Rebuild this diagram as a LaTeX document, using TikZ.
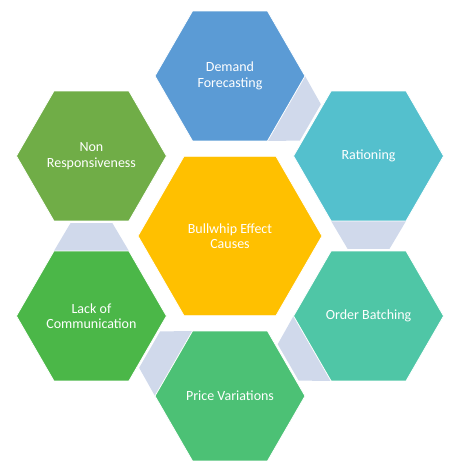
\documentclass[tikz,border=0pt]{standalone}
\usepackage{fontspec}
\setmainfont{Carlito}
\usetikzlibrary{shapes.geometric,calc,backgrounds}
\definecolor{hubfill}{HTML}{FFC000}
\definecolor{demandblue}{HTML}{5B9BD5}
\definecolor{rationteal}{HTML}{54C0CD}
\definecolor{batchgreen}{HTML}{4FC6A6}
\definecolor{pricegreen}{HTML}{4CC175}
\definecolor{commgreen}{HTML}{4BB748}
\definecolor{nonrespgreen}{HTML}{70AD47}
\definecolor{linkgrey}{HTML}{D0D9EB}
\tikzset{
  hexcell/.style={regular polygon,regular polygon sides=6,minimum size=150pt,inner sep=0pt,outer sep=0pt,
    draw=white,line width=0.8pt,text=white,align=center,font=\fontsize{14}{15.5}\selectfont}
}

\begin{document}
\begin{tikzpicture}[x=1pt,y=1pt]
    \useasboundingbox (-230,-238) rectangle (232,236);
    \node (hub) [hexcell,minimum size=184pt,fill=hubfill] {Bullwhip Effect\\Causes};
    \node (demand) [hexcell,fill=demandblue] at (90:160) {Demand\\Forecasting};
    \node (ration) [hexcell,fill=rationteal] at (30:160) {Rationing};
    \node (batch) [hexcell,fill=batchgreen] at (-30:160) {Order Batching};
    \node (price) [hexcell,fill=pricegreen] at (-90:160) {Price Variations};
    \node (comm) [hexcell,fill=commgreen] at (210:160) {Lack of\\Communication};
    \node (nonresp) [hexcell,fill=nonrespgreen] at (150:160) {Non\\Responsiveness};
    % links between neighbouring cells, wide side on the first one
    \begin{scope}[on background layer]
      \foreach \a/\b in {demand/ration,ration/batch,batch/price,price/comm,comm/nonresp}
        \fill[linkgrey] ($(\a)!0.40625!(\b)!37.5pt!90:(\b)$) -- ($(\a)!0.40625!(\b)!37.5pt!-90:(\b)$)
          -- ($(\a)!0.58!(\b)!21pt!-90:(\b)$) -- ($(\a)!0.58!(\b)!21pt!90:(\b)$) -- cycle;
    \end{scope}
\end{tikzpicture}
\end{document}
